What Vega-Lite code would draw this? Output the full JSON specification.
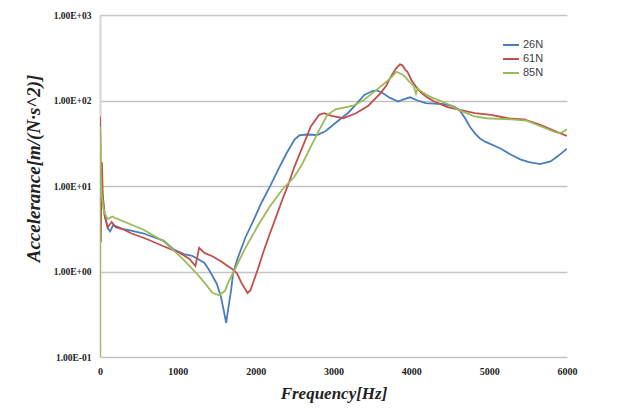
{
  "$schema": "https://vega.github.io/schema/vega-lite/v6.json",
  "width": 467,
  "height": 342,
  "autosize": {"type": "none"},
  "padding": {"left": 100, "top": 15, "right": 74, "bottom": 57},
  "background": "white",
  "config": {"view": {"stroke": null}},
  "data": {"values": [
    {"f": 2, "a": 8, "s": "26N"}, {"f": 15, "a": 18, "s": "26N"}, {"f": 30, "a": 8, "s": "26N"}, {"f": 60, "a": 4.5, "s": "26N"}, {"f": 100, "a": 3.2, "s": "26N"}, {"f": 130, "a": 2.95, "s": "26N"}, {"f": 170, "a": 3.5, "s": "26N"}, {"f": 200, "a": 3.4, "s": "26N"}, {"f": 290, "a": 3.15, "s": "26N"}, {"f": 400, "a": 3.0, "s": "26N"}, {"f": 553, "a": 2.8, "s": "26N"}, {"f": 700, "a": 2.5, "s": "26N"}, {"f": 816, "a": 2.3, "s": "26N"}, {"f": 950, "a": 1.8, "s": "26N"}, {"f": 1079, "a": 1.6, "s": "26N"}, {"f": 1184, "a": 1.52, "s": "26N"}, {"f": 1260, "a": 1.4, "s": "26N"}, {"f": 1342, "a": 1.26, "s": "26N"}, {"f": 1400, "a": 1.05, "s": "26N"}, {"f": 1447, "a": 0.88, "s": "26N"}, {"f": 1500, "a": 0.72, "s": "26N"}, {"f": 1553, "a": 0.51, "s": "26N"}, {"f": 1590, "a": 0.35, "s": "26N"}, {"f": 1621, "a": 0.25, "s": "26N"}, {"f": 1650, "a": 0.38, "s": "26N"}, {"f": 1684, "a": 0.6, "s": "26N"}, {"f": 1710, "a": 0.95, "s": "26N"}, {"f": 1763, "a": 1.38, "s": "26N"}, {"f": 1868, "a": 2.5, "s": "26N"}, {"f": 1974, "a": 4.0, "s": "26N"}, {"f": 2079, "a": 6.5, "s": "26N"}, {"f": 2184, "a": 9.9, "s": "26N"}, {"f": 2289, "a": 15.5, "s": "26N"}, {"f": 2395, "a": 24, "s": "26N"}, {"f": 2500, "a": 35, "s": "26N"}, {"f": 2560, "a": 39, "s": "26N"}, {"f": 2650, "a": 40, "s": "26N"}, {"f": 2790, "a": 39.5, "s": "26N"}, {"f": 2900, "a": 44, "s": "26N"}, {"f": 2974, "a": 50, "s": "26N"}, {"f": 3080, "a": 60, "s": "26N"}, {"f": 3184, "a": 71, "s": "26N"}, {"f": 3290, "a": 90, "s": "26N"}, {"f": 3395, "a": 116, "s": "26N"}, {"f": 3500, "a": 129, "s": "26N"}, {"f": 3560, "a": 131, "s": "26N"}, {"f": 3631, "a": 122, "s": "26N"}, {"f": 3720, "a": 108, "s": "26N"}, {"f": 3830, "a": 97, "s": "26N"}, {"f": 3900, "a": 103, "s": "26N"}, {"f": 3983, "a": 109, "s": "26N"}, {"f": 4080, "a": 100, "s": "26N"}, {"f": 4184, "a": 93, "s": "26N"}, {"f": 4395, "a": 91, "s": "26N"}, {"f": 4497, "a": 88, "s": "26N"}, {"f": 4560, "a": 84, "s": "26N"}, {"f": 4625, "a": 76, "s": "26N"}, {"f": 4690, "a": 62, "s": "26N"}, {"f": 4754, "a": 49, "s": "26N"}, {"f": 4820, "a": 41, "s": "26N"}, {"f": 4882, "a": 36, "s": "26N"}, {"f": 4947, "a": 33, "s": "26N"}, {"f": 5139, "a": 27.6, "s": "26N"}, {"f": 5289, "a": 23, "s": "26N"}, {"f": 5400, "a": 20.5, "s": "26N"}, {"f": 5500, "a": 19.2, "s": "26N"}, {"f": 5653, "a": 18, "s": "26N"}, {"f": 5789, "a": 19.4, "s": "26N"}, {"f": 5900, "a": 23, "s": "26N"}, {"f": 6000, "a": 27.3, "s": "26N"},

    {"f": 0, "a": 65, "s": "61N"}, {"f": 5, "a": 30, "s": "61N"}, {"f": 10, "a": 2.2, "s": "61N"}, {"f": 18, "a": 10, "s": "61N"}, {"f": 25, "a": 19, "s": "61N"}, {"f": 35, "a": 8, "s": "61N"}, {"f": 60, "a": 4.5, "s": "61N"}, {"f": 100, "a": 3.3, "s": "61N"}, {"f": 150, "a": 3.8, "s": "61N"}, {"f": 200, "a": 3.3, "s": "61N"}, {"f": 300, "a": 3.1, "s": "61N"}, {"f": 400, "a": 2.8, "s": "61N"}, {"f": 600, "a": 2.4, "s": "61N"}, {"f": 800, "a": 2.0, "s": "61N"}, {"f": 1026, "a": 1.65, "s": "61N"}, {"f": 1150, "a": 1.4, "s": "61N"}, {"f": 1226, "a": 1.16, "s": "61N"}, {"f": 1274, "a": 1.89, "s": "61N"}, {"f": 1342, "a": 1.65, "s": "61N"}, {"f": 1450, "a": 1.5, "s": "61N"}, {"f": 1553, "a": 1.32, "s": "61N"}, {"f": 1710, "a": 1.05, "s": "61N"}, {"f": 1760, "a": 0.95, "s": "61N"}, {"f": 1816, "a": 0.74, "s": "61N"}, {"f": 1895, "a": 0.56, "s": "61N"}, {"f": 1932, "a": 0.6, "s": "61N"}, {"f": 1980, "a": 0.8, "s": "61N"}, {"f": 2026, "a": 1.05, "s": "61N"}, {"f": 2100, "a": 1.7, "s": "61N"}, {"f": 2184, "a": 2.8, "s": "61N"}, {"f": 2260, "a": 4.3, "s": "61N"}, {"f": 2342, "a": 6.9, "s": "61N"}, {"f": 2420, "a": 10.5, "s": "61N"}, {"f": 2500, "a": 17, "s": "61N"}, {"f": 2605, "a": 29, "s": "61N"}, {"f": 2710, "a": 50, "s": "61N"}, {"f": 2816, "a": 68, "s": "61N"}, {"f": 2880, "a": 71, "s": "61N"}, {"f": 2974, "a": 66, "s": "61N"}, {"f": 3126, "a": 62, "s": "61N"}, {"f": 3289, "a": 71, "s": "61N"}, {"f": 3447, "a": 87, "s": "61N"}, {"f": 3605, "a": 122, "s": "61N"}, {"f": 3680, "a": 150, "s": "61N"}, {"f": 3737, "a": 190, "s": "61N"}, {"f": 3800, "a": 235, "s": "61N"}, {"f": 3854, "a": 265, "s": "61N"}, {"f": 3885, "a": 258, "s": "61N"}, {"f": 3920, "a": 230, "s": "61N"}, {"f": 3947, "a": 218, "s": "61N"}, {"f": 3975, "a": 195, "s": "61N"}, {"f": 4000, "a": 174, "s": "61N"}, {"f": 4060, "a": 145, "s": "61N"}, {"f": 4131, "a": 122, "s": "61N"}, {"f": 4210, "a": 108, "s": "61N"}, {"f": 4289, "a": 98, "s": "61N"}, {"f": 4447, "a": 85, "s": "61N"}, {"f": 4605, "a": 78, "s": "61N"}, {"f": 4816, "a": 71, "s": "61N"}, {"f": 5026, "a": 68, "s": "61N"}, {"f": 5237, "a": 62, "s": "61N"}, {"f": 5447, "a": 60, "s": "61N"}, {"f": 5658, "a": 52, "s": "61N"}, {"f": 5868, "a": 43, "s": "61N"}, {"f": 6000, "a": 38.5, "s": "61N"},

    {"f": 0, "a": 0.1, "s": "85N"}, {"f": 1, "a": 50, "s": "85N"}, {"f": 5, "a": 40, "s": "85N"}, {"f": 10, "a": 15, "s": "85N"}, {"f": 20, "a": 8, "s": "85N"}, {"f": 50, "a": 5, "s": "85N"}, {"f": 100, "a": 4.1, "s": "85N"}, {"f": 158, "a": 4.4, "s": "85N"}, {"f": 200, "a": 4.2, "s": "85N"}, {"f": 290, "a": 3.9, "s": "85N"}, {"f": 553, "a": 3.1, "s": "85N"}, {"f": 816, "a": 2.26, "s": "85N"}, {"f": 1000, "a": 1.6, "s": "85N"}, {"f": 1100, "a": 1.3, "s": "85N"}, {"f": 1237, "a": 0.96, "s": "85N"}, {"f": 1342, "a": 0.74, "s": "85N"}, {"f": 1447, "a": 0.56, "s": "85N"}, {"f": 1526, "a": 0.53, "s": "85N"}, {"f": 1605, "a": 0.59, "s": "85N"}, {"f": 1650, "a": 0.75, "s": "85N"}, {"f": 1710, "a": 0.96, "s": "85N"}, {"f": 1868, "a": 1.89, "s": "85N"}, {"f": 2026, "a": 3.4, "s": "85N"}, {"f": 2184, "a": 5.8, "s": "85N"}, {"f": 2342, "a": 9.1, "s": "85N"}, {"f": 2500, "a": 12.9, "s": "85N"}, {"f": 2605, "a": 18.6, "s": "85N"}, {"f": 2710, "a": 29, "s": "85N"}, {"f": 2816, "a": 45, "s": "85N"}, {"f": 2921, "a": 68, "s": "85N"}, {"f": 3026, "a": 79, "s": "85N"}, {"f": 3255, "a": 87, "s": "85N"}, {"f": 3395, "a": 102, "s": "85N"}, {"f": 3553, "a": 133, "s": "85N"}, {"f": 3710, "a": 175, "s": "85N"}, {"f": 3812, "a": 217, "s": "85N"}, {"f": 3895, "a": 199, "s": "85N"}, {"f": 3974, "a": 166, "s": "85N"}, {"f": 4030, "a": 148, "s": "85N"}, {"f": 4060, "a": 120, "s": "85N"}, {"f": 4079, "a": 138, "s": "85N"}, {"f": 4160, "a": 122, "s": "85N"}, {"f": 4237, "a": 111, "s": "85N"}, {"f": 4447, "a": 93, "s": "85N"}, {"f": 4658, "a": 74, "s": "85N"}, {"f": 4816, "a": 65, "s": "85N"}, {"f": 4967, "a": 62, "s": "85N"}, {"f": 5289, "a": 60, "s": "85N"}, {"f": 5481, "a": 58, "s": "85N"}, {"f": 5658, "a": 50, "s": "85N"}, {"f": 5867, "a": 42, "s": "85N"}, {"f": 5930, "a": 42, "s": "85N"}, {"f": 6000, "a": 46, "s": "85N"}
  ]},
  "mark": {"type": "line", "strokeWidth": 1.8, "clip": true},
  "encoding": {
    "x": {
      "field": "f", "type": "quantitative",
      "scale": {"domain": [0, 6000], "nice": false},
      "axis": {
        "title": "Frequency[Hz]",
        "values": [0, 1000, 2000, 3000, 4000, 5000, 6000],
        "format": "d",
        "grid": false, "domain": false, "ticks": false,
        "labelFlush": false,
        "labelFont": "Liberation Serif", "labelFontWeight": "bold", "labelFontSize": 10, "labelColor": "#222222",
        "labelPadding": 9,
        "titleFont": "Liberation Serif", "titleFontWeight": "bold", "titleFontStyle": "italic", "titleFontSize": 17, "titleColor": "#222222",
        "titlePadding": 9
      }
    },
    "y": {
      "field": "a", "type": "quantitative",
      "scale": {"type": "log", "domain": [0.1, 1000], "nice": false},
      "axis": {
        "title": "Accelerance[m/(N·s^2)]",
        "values": [0.1, 1, 10, 100, 1000],
        "labelExpr": "datum.value < 0.5 ? '1.00E-01' : datum.value < 5 ? '1.00E+00' : datum.value < 50 ? '1.00E+01' : datum.value < 500 ? '1.00E+02' : '1.00E+03'",
        "labelFlush": false,
        "grid": true, "gridColor": "#c4c4c4", "gridWidth": 1.3,
        "domain": true, "domainColor": "#d4d4d4", "domainWidth": 2,
        "ticks": false,
        "labelFont": "Liberation Serif", "labelFontWeight": "bold", "labelFontSize": 9.5, "labelColor": "#222222",
        "labelPadding": 9,
        "titleFont": "Liberation Serif", "titleFontWeight": "bold", "titleFontStyle": "italic", "titleFontSize": 19, "titleColor": "#222222",
        "titlePadding": 10,
        "titleY": 153
      }
    },
    "color": {
      "field": "s", "type": "nominal",
      "scale": {"domain": ["26N", "61N", "85N"], "range": ["#4a7ebb", "#c0504d", "#9bbb59"]},
      "legend": {
        "title": null,
        "orient": "none", "legendX": 402, "legendY": 21,
        "symbolType": "stroke", "symbolSize": 256, "symbolStrokeWidth": 2,
        "labelFont": "Liberation Sans", "labelFontSize": 11, "labelColor": "#404040",
        "labelOffset": 3, "rowPadding": 0
      }
    }
  }
}
